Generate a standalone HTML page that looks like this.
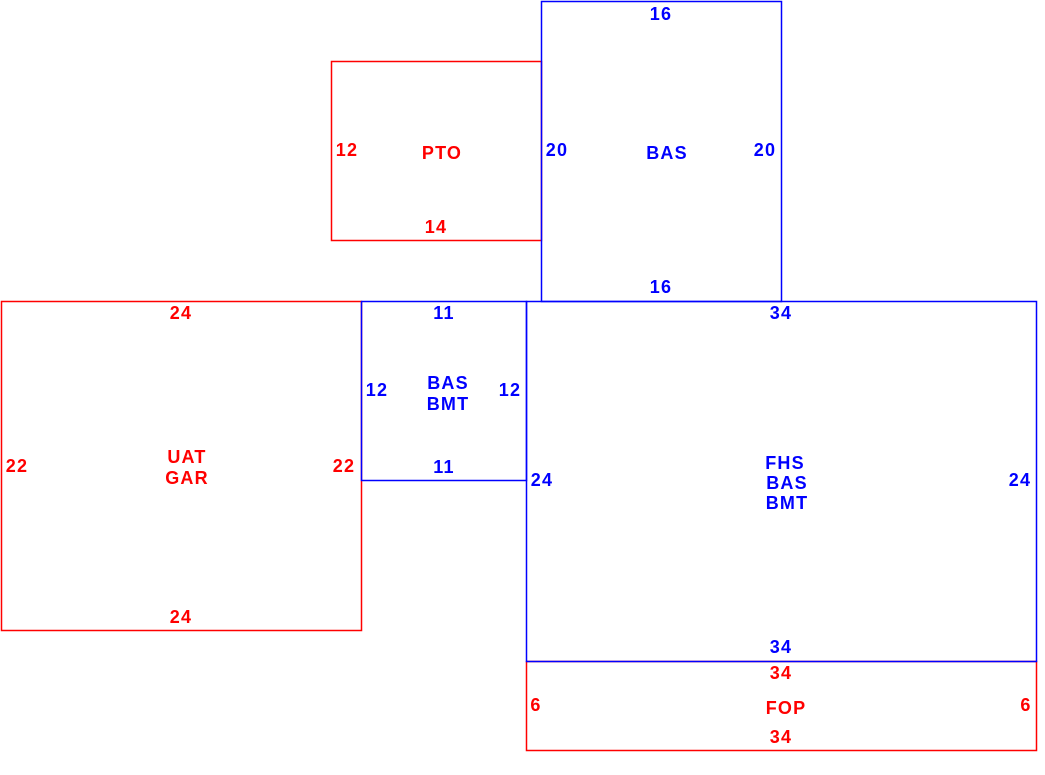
<!DOCTYPE html>
<html><head><meta charset="utf-8"><style>
html,body{margin:0;padding:0;background:#fff;}
svg{display:block}
text{font-family:"Liberation Sans",Arial,sans-serif;font-weight:bold;font-size:18px;letter-spacing:1.2px;text-anchor:middle;dominant-baseline:central}
.r{fill:#f00}.b{fill:#00f}
</style></head><body>
<svg width="1045" height="775" viewBox="0 0 1045 775">
<g fill="none" stroke-width="1.5">
<rect x="331.5" y="61.5" width="210" height="179" stroke="#f00"/>
<rect x="1.5" y="301.5" width="360" height="329" stroke="#f00"/>
<rect x="526.5" y="661.5" width="510" height="89" stroke="#f00"/>
<rect x="541.5" y="1.5" width="240" height="300" stroke="#00f"/>
<rect x="361.5" y="301.5" width="165" height="179" stroke="#00f"/>
<rect x="526.5" y="301.5" width="510" height="360" stroke="#00f"/>
</g>
<g class="r">
<text x="347" y="150">12</text><text x="442" y="153">PTO</text><text x="436" y="227">14</text>
<text x="181" y="313">24</text><text x="17" y="466">22</text><text x="344" y="466">22</text>
<text x="187" y="457">UAT</text><text x="187" y="478">GAR</text><text x="181" y="617">24</text>
<text x="781" y="673">34</text><text x="536" y="705">6</text><text x="786" y="708">FOP</text><text x="1026" y="705">6</text><text x="781" y="737">34</text>
</g>
<g class="b">
<text x="661" y="14">16</text><text x="557" y="150">20</text><text x="667" y="153">BAS</text><text x="765" y="150">20</text><text x="661" y="287">16</text>
<text x="444" y="313">11</text><text x="377" y="390">12</text><text x="510" y="390">12</text>
<text x="448" y="383">BAS</text><text x="448" y="404">BMT</text><text x="444" y="467">11</text>
<text x="781" y="313">34</text><text x="542" y="480">24</text><text x="1020" y="480">24</text>
<text x="785" y="463">FHS</text><text x="787" y="483">BAS</text><text x="787" y="503">BMT</text><text x="781" y="647">34</text>
</g>
</svg>
</body></html>
